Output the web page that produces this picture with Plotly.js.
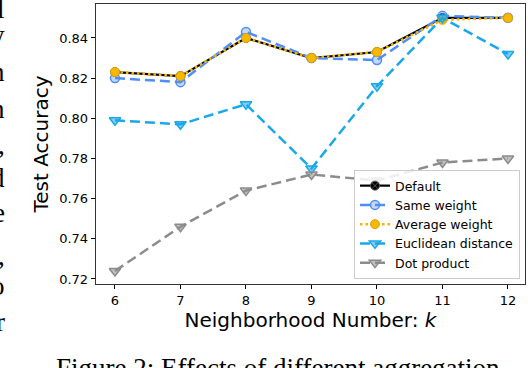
<!DOCTYPE html>
<html>
<head>
<meta charset="utf-8">
<script src="https://cdn.plot.ly/plotly-3.0.1.min.js"></script>
<style>
  html, body { margin: 0; padding: 0; background: #fff; }
  #plot { width: 528px; height: 368px; }
</style>
</head>
<body>
<div id="plot"></div>
<script>
// neighborhood number k on the x axis
var kValues = [6, 7, 8, 9, 10, 11, 12];

// test accuracy for each aggregation
var defaultAcc = [0.823, 0.821, 0.840, 0.830, 0.833, 0.850, 0.850];
var sameWeightAcc = [0.820, 0.818, 0.843, 0.830, 0.829, 0.851, 0.850];
var averageWeightAcc = [0.823, 0.821, 0.840, 0.830, 0.833, 0.849, 0.850];
var euclideanAcc = [0.799, 0.797, 0.807, 0.775, 0.816, 0.850, 0.832];
var dotProductAcc = [0.724, 0.746, 0.764, 0.772, 0.769, 0.778, 0.780];

var seriesNames = ["Default", "Same weight", "Average weight", "Euclidean distance", "Dot product"];
var yTicks = [0.72, 0.74, 0.76, 0.78, 0.80, 0.82, 0.84];

// cut-off text of the paper around the figure
var caption = "Figure 2: Effects of different aggregation";
var sideLetters = ["l", "y", "n", "n", ",", "d", "e", ",", "o", "r"];
var sideRows = [19, 45, 82, 119, 155, 188, 223, 266, 296, 332];

// plot box in pixels, used to place the page text
var box = { left: 96, right: 525, top: 4, bottom: 284 };
function px2x(p) { return (p - box.left) / (box.right - box.left); }
function px2y(p) { return (box.bottom - p) / (box.bottom - box.top); }

var traces = [
  {
    x: kValues, y: defaultAcc, name: seriesNames[0],
    type: "scatter", mode: "lines+markers",
    line: { color: "#000000", width: 2.2 },
    marker: { symbol: "circle-x", size: 9, color: "#000000", line: { color: "#555", width: 1 } }
  },
  {
    x: kValues, y: sameWeightAcc, name: seriesNames[1],
    type: "scatter", mode: "lines+markers",
    line: { color: "#4f8ef7", width: 2.5, dash: "10px,5px" },
    marker: { symbol: "circle", size: 9, color: "rgba(79,142,247,0.35)", line: { color: "#4f8ef7", width: 1.5 } }
  },
  {
    x: kValues, y: averageWeightAcc, name: seriesNames[2],
    type: "scatter", mode: "lines+markers",
    line: { color: "#f5b400", width: 2.5, dash: "2.5px,3px" },
    marker: { symbol: "circle", size: 9, color: "#f7b800", line: { color: "#e3a200", width: 1 } }
  },
  {
    x: kValues, y: euclideanAcc, name: seriesNames[3],
    type: "scatter", mode: "lines+markers",
    line: { color: "#1aa7ec", width: 2.5, dash: "10px,5px" },
    marker: { symbol: "triangle-down", size: 10, color: "rgba(26,167,236,0.55)", line: { color: "#1aa7ec", width: 1.5 } }
  },
  {
    x: kValues, y: dotProductAcc, name: seriesNames[4],
    type: "scatter", mode: "lines+markers",
    line: { color: "#8c8c8c", width: 2.5, dash: "10px,5px" },
    marker: { symbol: "triangle-down", size: 10, color: "rgba(140,140,140,0.55)", line: { color: "#8c8c8c", width: 1.5 } }
  }
];

var annotations = [
  {
    text: caption, xref: "paper", yref: "paper",
    x: px2x(54), y: px2y(385), xanchor: "left", yanchor: "bottom",
    showarrow: false, font: { family: "Liberation Serif", size: 27, color: "#000" }
  }
];
for (var i = 0; i < sideLetters.length; i++) {
  annotations.push({
    text: sideLetters[i], xref: "paper", yref: "paper",
    x: px2x(7), y: px2y(sideRows[i] + 7), xanchor: "right", yanchor: "bottom",
    showarrow: false, font: { family: "Liberation Serif", size: 27, color: "#000" }
  });
}

var layout = {
  width: 528,
  height: 368,
  margin: { l: box.left, r: 528 - box.right, t: box.top, b: 368 - box.bottom },
  paper_bgcolor: "#fff",
  plot_bgcolor: "#fff",
  font: { family: "DejaVu Sans", color: "#000" },
  showlegend: true,
  legend: {
    x: px2x(520), y: px2y(279), xanchor: "right", yanchor: "bottom",
    bgcolor: "rgba(255,255,255,0.85)", bordercolor: "#cccccc", borderwidth: 1,
    font: { family: "DejaVu Sans", size: 12.5 },
    tracegroupgap: 0, itemwidth: 30
  },
  xaxis: {
    range: [5.71, 12.26],
    tickvals: kValues,
    ticks: "outside", ticklen: 4, tickwidth: 1, tickcolor: "#000",
    tickfont: { size: 13 },
    showline: true, mirror: true, linecolor: "#333", linewidth: 1.3,
    showgrid: false, zeroline: false,
    title: { text: "Neighborhood Number: <i>k</i>", font: { size: 20 }, standoff: 5 }
  },
  yaxis: {
    range: [0.7175, 0.8569],
    tickvals: yTicks,
    tickformat: ".2f",
    ticks: "outside", ticklen: 4, tickwidth: 1, tickcolor: "#000",
    tickfont: { size: 13 },
    showline: true, mirror: true, linecolor: "#333", linewidth: 1.3,
    showgrid: false, zeroline: false,
    title: { text: "Test Accuracy", font: { size: 20 }, standoff: 5 }
  },
  annotations: annotations
};

Plotly.newPlot("plot", traces, layout, { displayModeBar: false, staticPlot: true });
</script>
</body>
</html>
